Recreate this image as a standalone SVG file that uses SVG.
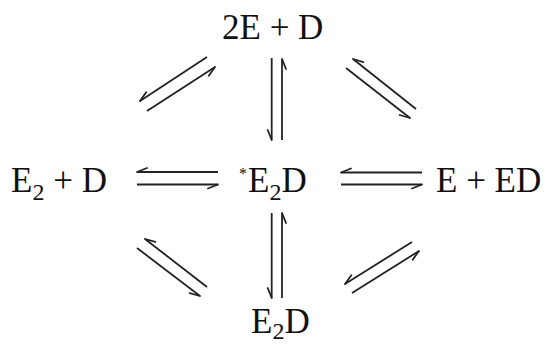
<svg xmlns="http://www.w3.org/2000/svg" width="544" height="345" viewBox="0 0 544 345">
  <style>
    .t { font-family: "Liberation Serif", "Times New Roman", serif; font-size: 35px; fill: #111; }
    .sub { font-size: 24px; }
    .ast { font-size: 16px; }
    .ln { stroke: #222; stroke-width: 1.8; fill: none; marker-end: url(#h); }
  </style>
  <defs>
    <marker id="h" markerUnits="userSpaceOnUse" viewBox="-12 -2 14 10" markerWidth="14" markerHeight="10" refX="0" refY="0" orient="auto" overflow="visible">
      <path d="M0,0 L-10,4" stroke="#222" stroke-width="1.8" fill="none" stroke-linecap="round"/>
    </marker>
  </defs>
  <rect width="544" height="345" fill="#fff"/>

  <g id="node-top"><text class="t" x="222" y="39">2E + D</text></g>
  <g id="node-left"><text class="t" x="11" y="192">E<tspan class="sub" dy="8">2</tspan><tspan dy="-8"> + D</tspan></text></g>
  <g id="node-center"><text class="t" x="239" y="179"><tspan class="ast">*</tspan><tspan x="248" y="192">E</tspan><tspan class="sub" dy="8">2</tspan><tspan dy="-8">D</tspan></text></g>
  <g id="node-right"><text class="t" x="436" y="192">E + ED</text></g>
  <g id="node-bottom"><text class="t" x="251" y="333">E<tspan class="sub" dy="6">2</tspan><tspan dy="-6">D</tspan></text></g>

  <g id="connectors">
    <!-- top-left -->
    <line class="ln" x1="207" y1="57" x2="140" y2="101"/>
    <line class="ln" x1="147" y1="111" x2="215" y2="67"/>
    <!-- top-right -->
    <line class="ln" x1="416" y1="109" x2="353" y2="59"/>
    <line class="ln" x1="346" y1="68" x2="410" y2="118"/>
    <!-- top vertical -->
    <line class="ln" x1="271.7" y1="58" x2="271.7" y2="140"/>
    <line class="ln" x1="282" y1="140" x2="282" y2="59"/>
    <!-- left horizontal -->
    <line class="ln" x1="218" y1="172" x2="137" y2="172"/>
    <line class="ln" x1="137" y1="184.5" x2="218" y2="184.5"/>
    <!-- right horizontal -->
    <line class="ln" x1="422" y1="172.5" x2="341" y2="172.5"/>
    <line class="ln" x1="341" y1="184.5" x2="422" y2="184.5"/>
    <!-- bottom vertical -->
    <line class="ln" x1="271.7" y1="213" x2="271.7" y2="298"/>
    <line class="ln" x1="282" y1="298" x2="282" y2="213"/>
    <!-- bottom-left -->
    <line class="ln" x1="207" y1="287" x2="145" y2="239"/>
    <line class="ln" x1="137" y1="248" x2="200" y2="296"/>
    <!-- bottom-right -->
    <line class="ln" x1="412" y1="242" x2="345" y2="284"/>
    <line class="ln" x1="352" y1="293" x2="419" y2="251"/>
  </g>
</svg>
